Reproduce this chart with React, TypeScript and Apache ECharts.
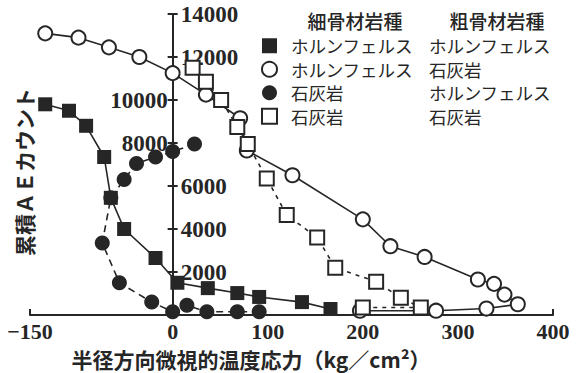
import React, { useEffect, useRef } from "react";
import * as echarts from "echarts";

// Radial microscopic thermal stress (kg/cm²) vs cumulative AE count
const X_MIN = -150;
const X_MAX = 400;
const X_TICK_LABELS = [-150, 0, 100, 200, 300, 400];
const Y_LABELS_LEFT = [10000, 8000];
const Y_LABELS_RIGHT = [14000, 12000, 6000, 4000, 2000];

const FINE_AGG = ["ホルンフェルス", "ホルンフェルス", "石灰岩", "石灰岩"];
const COARSE_AGG = ["ホルンフェルス", "石灰岩", "ホルンフェルス", "石灰岩"];
const SERIES_NAMES = [
  "ホルンフェルス／ホルンフェルス",
  "ホルンフェルス／石灰岩",
  "石灰岩／ホルンフェルス",
  "石灰岩／石灰岩",
];

// fine: hornfels, coarse: hornfels (filled squares)
const hhX = [-134, -109, -91, -72, -65, -51, -18, 5, 37, 68, 91, 136, 166];
const hhY = [9800, 9500, 8800, 7350, 5450, 4000, 2650, 1500, 1250, 1020, 840, 600, 280];

// fine: hornfels, coarse: limestone (open circles)
const hlX = [-134, -99, -67, -35, 0, 35, 71, 78, 126, 200, 229, 265, 321, 338, 349, 363, 330, 277, 197];
const hlY = [13100, 12900, 12450, 12000, 11250, 10250, 9150, 7650, 6500, 4450, 3200, 2700, 1650, 1450, 950, 500, 300, 200, 200];

// fine: limestone, coarse: hornfels (filled circles)
const lhX = [23, 0, -18, -38, -51, -65, -74, -56, -22, 0, 15, 36, 68, 91];
const lhY = [7950, 7600, 7350, 7050, 6300, 5450, 3350, 1500, 600, 150, 450, 150, 150, 150];

// fine: limestone, coarse: limestone (open squares)
const llX = [21, 35, 51, 68, 79, 99, 120, 152, 171, 214, 240, 261, 200];
const llY = [11500, 10850, 10000, 8750, 7950, 6350, 4650, 3600, 2200, 1550, 800, 350, 350];

const INK = "#262626";
const NUM_FONT = "Liberation Sans Narrow";
const JP_FONT = "'Noto Sans CJK JP'";

const GRID = { left: 30, right: 28, top: 14, bottom: 58 };
const WIDTH = 581;
const HEIGHT = 373;

const zip = (xs: number[], ys: number[]) => xs.map((x, i) => [x, ys[i]]);

export default function App() {
  const ref = useRef<HTMLDivElement>(null);

  useEffect(() => {
    if (!ref.current) return;
    const chart = echarts.init(ref.current, undefined, { renderer: "svg" });

    const plotW = WIDTH - GRID.left - GRID.right;
    // place the value axis at x = 0
    const yOffset = -(plotW * (0 - X_MIN)) / (X_MAX - X_MIN);

    const numLabel = {
      fontSize: 23,
      fontFamily: NUM_FONT,
      fontWeight: "bold" as const,
      color: INK,
    };

    const lineBase = { color: INK, width: 1.6 };

    chart.setOption({
      animation: false,
      backgroundColor: "#ffffff",
      grid: { ...GRID, containLabel: false },
      xAxis: {
        type: "value",
        min: X_MIN,
        max: X_MAX,
        interval: 50,
        axisLine: { show: true, onZero: false, lineStyle: { color: INK, width: 2 } },
        axisTick: { show: false },
        splitLine: { show: false },
        axisLabel: {
          ...numLabel,
          fontSize: 22,
          lineHeight: 20,
          margin: 6,
          formatter: (v: number) =>
            X_TICK_LABELS.includes(v) ? (v < 0 ? "−" + Math.abs(v) : String(v)) : "",
        },
      },
      yAxis: [
        {
          type: "value",
          min: 0,
          max: 14000,
          interval: 2000,
          position: "left",
          offset: yOffset,
          axisLine: { show: true, onZero: false, lineStyle: { color: INK, width: 2 } },
          axisTick: { show: true, length: 5, lineStyle: { color: INK, width: 2 } },
          splitLine: { show: false },
          axisLabel: {
            ...numLabel,
            margin: 5,
            formatter: (v: number) => (Y_LABELS_LEFT.includes(v) ? String(v) : ""),
          },
        },
        {
          type: "value",
          min: 0,
          max: 14000,
          interval: 2000,
          position: "left",
          offset: yOffset,
          axisLine: { show: false, onZero: false },
          axisTick: { show: true, inside: true, length: 5, lineStyle: { color: INK, width: 2 } },
          splitLine: { show: false },
          axisLabel: {
            ...numLabel,
            inside: true,
            margin: 8,
            formatter: (v: number) => (Y_LABELS_RIGHT.includes(v) ? String(v) : ""),
          },
        },
      ],
      legend: {
        orient: "vertical",
        left: 256,
        top: 32,
        itemWidth: 15,
        itemHeight: 15,
        itemGap: 6,
        selectedMode: false,
        data: [
          { name: SERIES_NAMES[0], icon: "rect" },
          { name: SERIES_NAMES[1], icon: "circle" },
          { name: SERIES_NAMES[2], icon: "circle" },
          { name: SERIES_NAMES[3], icon: "rect" },
        ],
        formatter: (name: string) => {
          const i = SERIES_NAMES.indexOf(name);
          return `{a|${FINE_AGG[i]}}{b|${COARSE_AGG[i]}}`;
        },
        textStyle: {
          color: INK,
          rich: {
            a: { fontSize: 17.5, lineHeight: 17, fontFamily: JP_FONT, color: INK, width: 138, padding: [0, 0, 0, 9] },
            b: { fontSize: 17.5, lineHeight: 17, fontFamily: JP_FONT, color: INK },
          },
        },
      },
      graphic: [
        {
          type: "text",
          x: 355,
          y: 20,
          style: { text: "細骨材岩種", align: "center", verticalAlign: "middle", font: `500 19px ${JP_FONT}`, fill: INK },
        },
        {
          type: "text",
          x: 497,
          y: 20,
          style: { text: "粗骨材岩種", align: "center", verticalAlign: "middle", font: `500 19px ${JP_FONT}`, fill: INK },
        },
        {
          type: "text",
          x: 251,
          y: 359,
          style: {
            text: "半径方向微視的温度応力（kg／cm²）",
            align: "center",
            verticalAlign: "middle",
            font: `bold 21px ${JP_FONT}`,
            fill: INK,
          },
        },
        {
          type: "text",
          x: 24,
          y: 172,
          rotation: Math.PI / 2,
          style: {
            text: "累積ＡＥカウント",
            align: "center",
            verticalAlign: "middle",
            font: `bold 21px ${JP_FONT}`,
            fill: INK,
          },
        },
      ],
      series: [
        {
          name: SERIES_NAMES[0],
          type: "line",
          data: zip(hhX, hhY),
          symbol: "rect",
          symbolSize: 14,
          itemStyle: { color: INK },
          lineStyle: { ...lineBase, type: "solid" },
          z: 4,
          markLine: {
            silent: true,
            symbol: "none",
            label: { show: false },
            lineStyle: { color: INK, width: 2, type: "solid" },
            data: [
              [{ coord: [X_MIN, 0] }, { coord: [X_MIN, 280] }],
              [{ coord: [X_MAX, 0] }, { coord: [X_MAX, 280] }],
            ],
          },
        },
        {
          name: SERIES_NAMES[1],
          type: "line",
          data: zip(hlX, hlY),
          symbol: "circle",
          symbolSize: 14,
          itemStyle: { color: "#ffffff", borderColor: INK, borderWidth: 2 },
          lineStyle: { ...lineBase, type: "solid" },
          z: 3,
        },
        {
          name: SERIES_NAMES[2],
          type: "line",
          data: zip(lhX, lhY),
          symbol: "circle",
          symbolSize: 15,
          itemStyle: { color: INK },
          lineStyle: { ...lineBase, type: [7, 5] },
          z: 4,
        },
        {
          name: SERIES_NAMES[3],
          type: "line",
          data: zip(llX, llY),
          symbol: "rect",
          symbolSize: 14,
          itemStyle: { color: "#ffffff", borderColor: INK, borderWidth: 2 },
          lineStyle: { ...lineBase, type: [4, 5] },
          z: 3,
        },
      ],
    });

    return () => chart.dispose();
  }, []);

  return (
    <div
      ref={ref}
      style={{ position: "fixed", left: 0, top: 0, width: WIDTH, height: HEIGHT, background: "#fff" }}
    />
  );
}
